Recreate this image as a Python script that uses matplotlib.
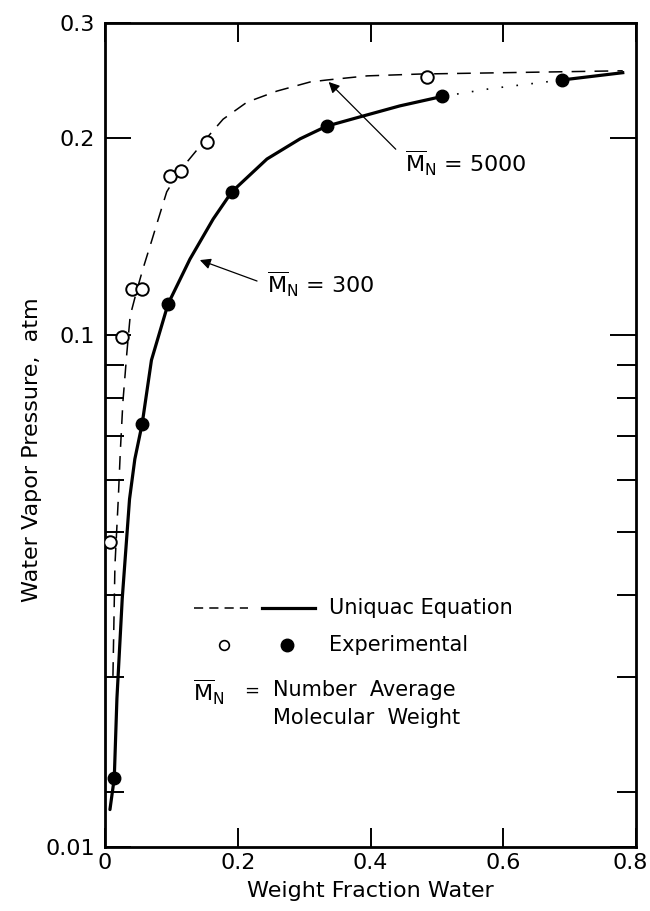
import numpy as np
import matplotlib
matplotlib.use("Agg")
import matplotlib.pyplot as plt
from matplotlib.transforms import ScaledTranslation

plt.rcParams['font.family'] = ['DejaVu Sans']
plt.rcParams['mathtext.fontset'] = 'dejavusans'

# ---- data ----
# Uniquac equation curve, Mn = 300 (solid)
x300_curve = [0.0075, 0.014, 0.018, 0.026, 0.037, 0.045, 0.056, 0.070, 0.095, 0.128,
              0.163, 0.191, 0.244, 0.294, 0.334, 0.384, 0.444, 0.508, 0.58, 0.688, 0.78]
p300_curve = [0.0188, 0.0210, 0.0278, 0.0395, 0.0561, 0.0646, 0.0731, 0.0915, 0.1115, 0.1306,
              0.1504, 0.1655, 0.1858, 0.1995, 0.2086, 0.2155, 0.224, 0.2316, 0.238, 0.2454, 0.2518]
# Uniquac equation curve, Mn = 5000 (dashed)
x5000_curve = [0.012, 0.015, 0.020, 0.023, 0.027, 0.033, 0.038, 0.048, 0.057, 0.071, 0.080,
               0.093, 0.111, 0.155, 0.178, 0.214, 0.259, 0.309, 0.334, 0.395, 0.474, 0.78]
p5000_curve = [0.0301, 0.0444, 0.056, 0.066, 0.079, 0.094, 0.107, 0.117, 0.126, 0.140, 0.150,
               0.1655, 0.1774, 0.201, 0.2138, 0.227, 0.236, 0.2437, 0.2454, 0.249, 0.2506, 0.2535]
# Experimental points
x300_exp = [0.014, 0.056, 0.095, 0.191, 0.334, 0.508, 0.688]
p300_exp = [0.0210, 0.0731, 0.1115, 0.1655, 0.2086, 0.2316, 0.2454]
x5000_exp = [0.008, 0.026, 0.041, 0.056, 0.098, 0.114, 0.154, 0.485]
p5000_exp = [0.0483, 0.0993, 0.1176, 0.1176, 0.175, 0.178, 0.197, 0.248]

x_ticks = [0, 0.2, 0.4, 0.6, 0.8]
x_ticklabels = ['0', '0.2', '0.4', '0.6', '0.8']
y_bottom = 0.01648
y_ticks = [y_bottom, 0.1, 0.2, 0.3]
y_ticklabels = ['0.01', '0.1', '0.2', '0.3']
y_minor = [0.02, 0.03, 0.04, 0.05, 0.06, 0.07, 0.08, 0.09]

fig = plt.figure(figsize=(6.5, 9.11), dpi=100)
ax = fig.add_axes([0.1615, 0.0703, 0.817, 0.9045])

ax.set_yscale('log')
ax.set_xlim(0, 0.8)
ax.set_ylim(y_bottom, 0.3)

k = x300_curve.index(0.508)
ax.plot(x300_curve[:k + 1], p300_curve[:k + 1], color='black', lw=2.3,
        solid_capstyle='round', solid_joinstyle='round')
ax.plot(x300_curve[k:k + 3], p300_curve[k:k + 3], color='black', lw=1.2, linestyle=(0, (1, 8)))
ax.plot(x300_curve[k + 2:], p300_curve[k + 2:], color='black', lw=2.3)
ax.plot(x5000_curve, p5000_curve, color='black', lw=1.1, linestyle=(0, (9, 6)))

ax.plot(x300_exp, p300_exp, 'o', color='black', ms=9, zorder=5)
ax.plot(x5000_exp, p5000_exp, 'o', mfc='white', mec='black', mew=1.4, ms=9, zorder=5)

# annotations
ax.annotate('', xy=(0.334, 0.2454), xytext=(0.441, 0.191),
            arrowprops=dict(arrowstyle='-|>', color='black', lw=0.9, mutation_scale=16))
ax.text(0.452, 0.1826, r'$\mathregular{\overline{M}_N}$ = 5000', fontsize=16, va='center', ha='left')
ax.annotate('', xy=(0.139, 0.1306), xytext=(0.233, 0.1205),
            arrowprops=dict(arrowstyle='-|>', color='black', lw=0.9, mutation_scale=16))
ax.text(0.244, 0.1195, r'$\mathregular{\overline{M}_N}$ = 300', fontsize=16, va='center', ha='left')

# legend block
T = ax.transAxes
ax.plot([0.168, 0.269], [0.290, 0.290], transform=T, color='black', lw=1.1, linestyle=(0, (6, 4)))
ax.plot([0.296, 0.395], [0.290, 0.290], transform=T, color='black', lw=2.3)
ax.text(0.422, 0.290, 'Uniquac Equation', transform=T, fontsize=15, va='center', ha='left')
ax.plot([0.224], [0.245], 'o', transform=T, mfc='white', mec='black', mew=1.2, ms=7)
ax.plot([0.343], [0.245], 'o', transform=T, color='black', ms=9)
ax.text(0.422, 0.245, 'Experimental', transform=T, fontsize=15, va='center', ha='left')
ax.text(0.165, 0.188, r'$\mathregular{\overline{M}_N}$', transform=T, fontsize=16, va='center', ha='left')
ax.text(0.262, 0.190, '=', transform=T, fontsize=13, va='center', ha='left')
ax.text(0.316, 0.190, 'Number  Average', transform=T, fontsize=15, va='center', ha='left')
ax.text(0.316, 0.157, 'Molecular  Weight', transform=T, fontsize=15, va='center', ha='left')

# axes styling
for s in ax.spines.values():
    s.set_linewidth(2)
ax.set_xticks(x_ticks)
ax.set_xticklabels(x_ticklabels)
ax.set_yticks(y_ticks)
ax.set_yticklabels(y_ticklabels)
ax.set_yticks(y_minor, minor=True)
ax.yaxis.set_minor_formatter(matplotlib.ticker.NullFormatter())
ax.tick_params(axis='x', which='major', direction='in', length=14, width=1.4,
               top=True, bottom=True, labelsize=16, pad=4)
ax.tick_params(axis='y', which='major', direction='in', length=19, width=1.4,
               left=True, right=True, labelsize=16, pad=7)
ax.tick_params(axis='y', which='minor', direction='in', length=14, width=1.4,
               left=True, right=True)
last = ax.get_xticklabels()[-1]
last.set_transform(last.get_transform() + ScaledTranslation(-6 / 100, 0, fig.dpi_scale_trans))

ax.set_xlabel('Weight Fraction Water', fontsize=16, labelpad=6)
ax.set_ylabel('Water Vapor Pressure,  atm', fontsize=16)
ax.yaxis.set_label_coords(-0.119, 0.482)

fig.savefig('out.png', dpi=100)
